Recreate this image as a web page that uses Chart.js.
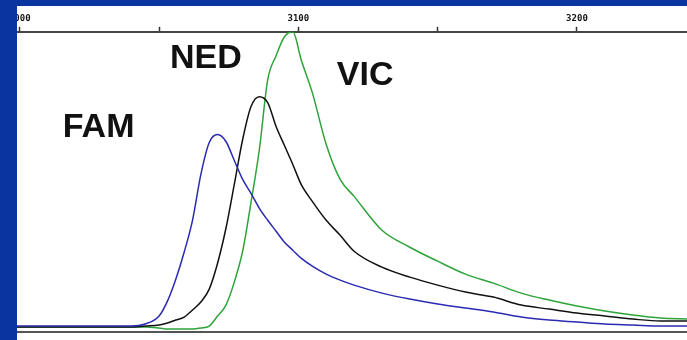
<!DOCTYPE html>
<html>
<head>
  <title>FAM / NED / VIC peaks</title>
  <script src="https://cdn.jsdelivr.net/npm/chart.js"></script>
<style>
body {
  margin: 0;
  background: #0a34a0;
  width: 687px;
  height: 340px;
  overflow: hidden;
}
.panel {
  position: absolute;
  left: 17px;
  top: 6px;
  width: 670px;
  height: 334px;
  background: #ffffff;
  overflow: hidden;
}
.chart-box {
  position: absolute;
  left: -30px;
  top: 0;
  width: 700px;
  height: 334px;
}
</style>
</head>
<body>

  <div class="panel">
    <div class="chart-box">
      <canvas id="peakChart"></canvas>
    </div>
  </div>

  <script>
    // size in bases (top axis)
    const sizes = [2999, 3010, 3020, 3030, 3035, 3040, 3045, 3050, 3053, 3056, 3059, 3062, 3065, 3068,
      3071, 3074, 3077, 3080, 3083, 3086, 3089, 3092, 3095, 3098, 3101, 3105, 3110, 3115, 3120,
      3130, 3140, 3150, 3160, 3170, 3180, 3190, 3200, 3210, 3220, 3230, 3240];

    // signal, arbitrary units
    const fam = [6, 6, 6, 6, 6, 6, 8, 16, 31, 53, 80, 112, 158, 190, 198, 191, 172, 153, 139, 124,
      112, 101, 90, 82, 74, 66, 58, 52, 47, 39, 33, 28, 24, 20, 15, 12, 10, 8, 7, 6, 6];
    const ned = [5, 5, 5, 5, 5, 5, 6, 7, 9, 12, 15, 22, 30, 43, 69, 104, 148, 193, 226, 236,
      230, 206, 187, 168, 148, 131, 112, 97, 81, 65, 55, 47, 40, 35, 27, 23, 19, 16, 13, 11, 11];
    const vic = [5, 5, 5, 5, 5, 5, 5, 4, 3, 3, 3, 3, 4, 6, 16, 27, 50, 81, 130, 183,
      253, 277, 296, 301, 273, 240, 188, 153, 136, 102, 85, 71, 58, 49, 39, 32, 26, 21, 17, 14, 13];

    const seriesNames = ['FAM', 'NED', 'VIC'];
    // where each dye name sits, in axis units
    const labelAt = [
      { x: 3015.4, y: 196 },
      { x: 3053.9, y: 265 },
      { x: 3113.8, y: 248 }
    ];

    const toPoints = (ys) => sizes.map((s, i) => ({ x: s, y: ys[i] }));

    const dyeLabels = {
      id: 'dyeLabels',
      afterDatasetsDraw(chart) {
        const ctx = chart.ctx;
        const xs = chart.scales.x, ys = chart.scales.y;
        ctx.save();
        ctx.fillStyle = '#111111';
        ctx.font = 'bold 34px "Liberation Sans", Arial, sans-serif';
        ctx.textAlign = 'left';
        ctx.textBaseline = 'alphabetic';
        seriesNames.forEach((name, i) => {
          ctx.fillText(name, xs.getPixelForValue(labelAt[i].x), ys.getPixelForValue(labelAt[i].y));
        });
        ctx.restore();
      }
    };

    const lineStyle = {
      borderWidth: 1.5,
      pointRadius: 0,
      cubicInterpolationMode: 'monotone',
      fill: false
    };

    const ctx = document.getElementById('peakChart').getContext('2d');
    const peakChart = new Chart(ctx, {
      type: 'line',
      data: {
        datasets: [
          Object.assign({ label: seriesNames[0], data: toPoints(fam), borderColor: '#2a2ab2' }, lineStyle),
          Object.assign({ label: seriesNames[1], data: toPoints(ned), borderColor: '#111111' }, lineStyle),
          Object.assign({ label: seriesNames[2], data: toPoints(vic), borderColor: '#2ea33a' }, lineStyle)
        ]
      },
      options: {
        responsive: true,
        maintainAspectRatio: false,
        animation: false,
        layout: {
          padding: { left: 30, right: 0, top: 4, bottom: 0 }
        },
        plugins: {
          legend: { display: false },
          tooltip: { enabled: false }
        },
        scales: {
          x: {
            type: 'linear',
            position: 'top',
            min: 2999,
            max: 3239.5,
            grid: {
              drawOnChartArea: false,
              drawTicks: true,
              tickLength: 5,
              tickColor: '#333333',
              tickWidth: 1.5
            },
            border: { color: '#444444', width: 2 },
            ticks: {
              stepSize: 50,
              includeBounds: false,
              maxRotation: 0,
              autoSkip: false,
              padding: 3,
              color: '#111111',
              font: { family: 'DejaVu Sans Mono', size: 9, weight: 'bold' },
              callback: (v) => (v % 100 === 0 ? String(v) : '')
            }
          },
          xb: {
            type: 'linear',
            position: 'bottom',
            min: 2999,
            max: 3239.5,
            grid: { display: false },
            ticks: { display: false },
            border: { color: '#555555', width: 2 }
          },
          y: {
            display: false,
            min: 0,
            max: 301
          }
        }
      },
      plugins: [dyeLabels]
    });
  </script>

</body>
</html>
